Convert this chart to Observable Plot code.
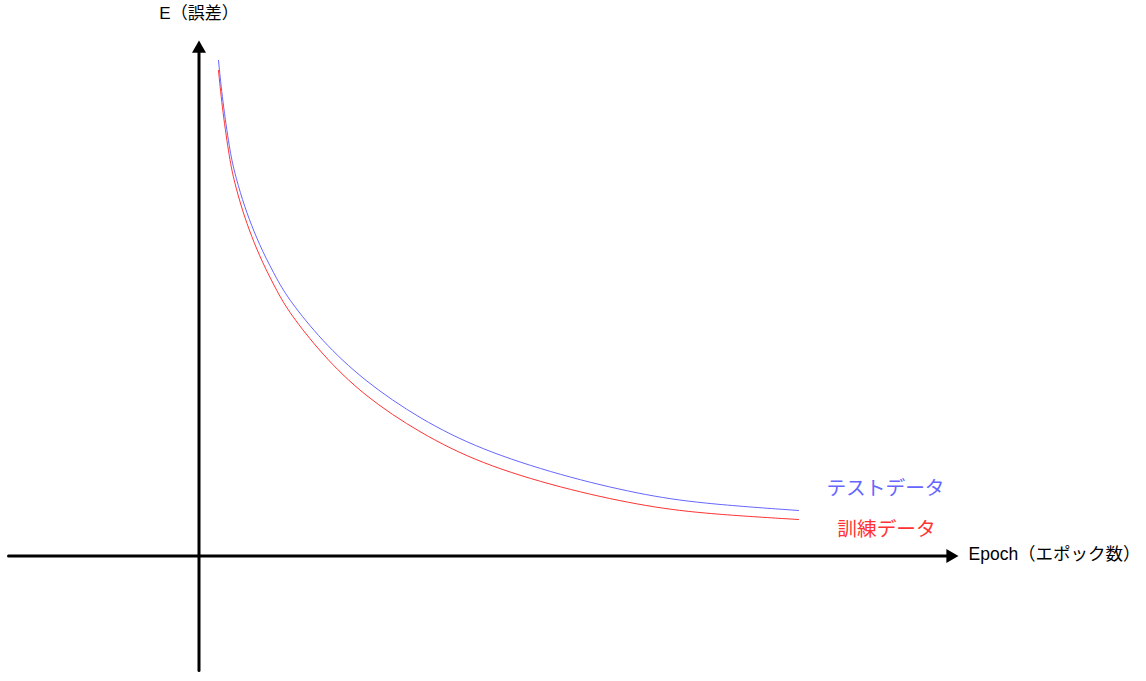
<!DOCTYPE html>
<html>
<head>
<meta charset="utf-8">
<script src="https://cdn.jsdelivr.net/npm/d3@7"></script>
<script src="https://cdn.jsdelivr.net/npm/@observablehq/plot@0.6"></script>
<style>
  html, body { margin: 0; padding: 0; background: #ffffff; }
  #chart svg { display: block; }
</style>
</head>
<body>
<div id="chart"></div>
<script>
// ---- data ----
const epochs     = [1.95, 2.35, 3.08, 3.50, 4.35, 5.25, 6.30, 7.85, 9.05, 12.25, 16.45, 22.15, 28.15, 36.15, 44.15, 50.15, 59.95];
const testError  = [49.55, 45.55, 40.55, 38.55, 35.55, 33.05, 30.55, 27.55, 25.55, 21.55, 17.55, 13.65, 10.65, 8.05, 6.15, 5.25, 4.55];
const trainError = [48.55, 44.55, 39.55, 37.55, 34.50, 31.97, 29.43, 26.37, 24.30, 20.20, 16.04, 12.25, 9.25, 6.80, 5.05, 4.25, 3.65];
const seriesNames = ["テストデータ", "訓練データ"];
const seriesColors = ["#6666FF", "#FF3333"];
const axisLabels = ["E（誤差）", "Epoch（エポック数）"];
const xAxisExtent = [-19.05, 75.95];
const yAxisExtent = [-11.45, 51.55];

// ---- layout ----
const W = 1146, H = 681;
const originX = 198.5, originY = 555.5, unit = 10; // px per data unit
const headBack = 8 / unit; // shorten axis lines under the arrow heads
const font = "'Liberation Sans', Arial, 'Noto Sans CJK JP', sans-serif";

const testData = epochs.map((x, i) => ({x, y: testError[i]}));
const trainData = epochs.map((x, i) => ({x, y: trainError[i]}));
const xAxisLine = [{x: xAxisExtent[0], y: 0}, {x: xAxisExtent[1] - headBack, y: 0}];
const yAxisLine = [{x: 0, y: yAxisExtent[0]}, {x: 0, y: yAxisExtent[1] - headBack}];
const xTip = [{x: xAxisExtent[1], y: 0}];
const yTip = [{x: 0, y: yAxisExtent[1]}];
const lastTest = [testData[testData.length - 1]];
const lastTrain = [trainData[trainData.length - 1]];

const chart = Plot.plot({
  width: W,
  height: H,
  margin: 0,
  x: {domain: [0, 10], range: [originX, originX + 10 * unit], axis: null},
  y: {domain: [0, 10], range: [originY, originY - 10 * unit], axis: null},
  marks: [
    Plot.line(xAxisLine, {x: "x", y: "y", stroke: "#000", strokeWidth: 3}),
    Plot.line(yAxisLine, {x: "x", y: "y", stroke: "#000", strokeWidth: 3}),
    Plot.dot(xTip, {x: "x", y: "y", symbol: "triangle", r: 5.2, fill: "#000", stroke: null, rotate: 90, dx: -8.1}),
    Plot.dot(yTip, {x: "x", y: "y", symbol: "triangle", r: 5.2, fill: "#000", stroke: null, dy: 8.1}),
    Plot.line(trainData, {x: "x", y: "y", stroke: seriesColors[1], strokeWidth: 1, curve: "basis"}),
    Plot.line(testData, {x: "x", y: "y", stroke: seriesColors[0], strokeWidth: 1, curve: "basis"}),
    Plot.text(lastTest, {x: "x", y: "y", text: () => seriesNames[0], fill: seriesColors[0],
      fontSize: 19.7, fontFamily: font, textAnchor: "middle", dx: 87, dy: -22}),
    Plot.text(lastTrain, {x: "x", y: "y", text: () => seriesNames[1], fill: seriesColors[1],
      fontSize: 19.7, fontFamily: font, textAnchor: "middle", dx: 88, dy: 10}),
    Plot.text(yTip, {x: "x", y: "y", text: () => axisLabels[0], fill: "#000",
      fontSize: 17, fontFamily: font, textAnchor: "middle", dy: -27}),
    Plot.text(xTip, {x: "x", y: "y", text: () => axisLabels[1], fill: "#000",
      fontSize: 17.5, fontFamily: font, textAnchor: "start", dx: 10, dy: -2})
  ]
});
document.getElementById("chart").appendChild(chart);
</script>
</body>
</html>
